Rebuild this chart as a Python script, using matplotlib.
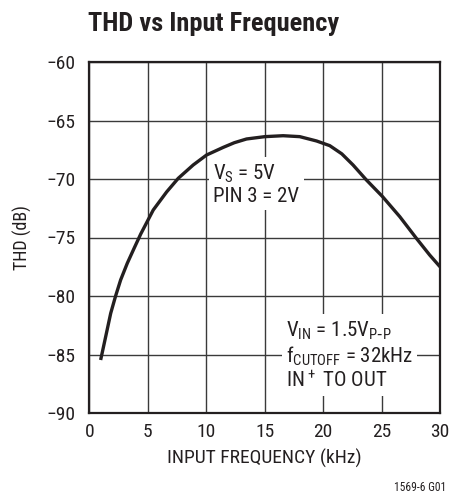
import matplotlib
matplotlib.use('Agg')
import matplotlib.pyplot as plt

# curve
freq_khz = [0.97, 1.40, 1.83, 2.25, 2.68, 3.25, 3.82, 4.4, 5.47, 6.62, 7.61, 8.89,
            10.03, 11.45, 12.4, 13.45, 15.02, 16.58, 18.0, 19.44, 20.57, 21.6,
            22.56, 23.71, 25.08, 26.56, 27.98, 29.12, 30.0]
thd_db = [-85.47, -83.48, -81.48, -80.0, -78.63, -77.2, -75.95, -74.7, -72.65, -71.1,
          -69.94, -68.8, -67.95, -67.3, -66.9, -66.58, -66.38, -66.3, -66.38, -66.75,
          -67.15, -67.85, -68.8, -70.09, -71.5, -73.22, -75.07, -76.5, -77.5]

x_ticks = [0, 5, 10, 15, 20, 25, 30]
y_ticks = [-90, -85, -80, -75, -70, -65, -60]

FONT = ['Liberation Sans Narrow', 'Roboto Condensed', 'Roboto', 'DejaVu Sans']
plt.rcParams['font.family'] = FONT
plt.rcParams['axes.unicode_minus'] = True
INK = '#231f20'

fig = plt.figure(figsize=(4.51, 5.0), dpi=100)
ax = fig.add_axes([0.198, 0.174, 0.7776, 0.702])

ax.plot(freq_khz, thd_db, color=INK, lw=2.4, zorder=4,
        solid_capstyle='butt', solid_joinstyle='round')

ax.set_xlim(0, 30)
ax.set_ylim(-90, -60)
ax.set_xticks(x_ticks)
ax.set_yticks(y_ticks)
ax.grid(True, color='#3a3a3a', lw=1.0, zorder=1)
ax.set_axisbelow(True)
ax.tick_params(length=0, labelsize=14, colors=INK)
ax.tick_params(axis='y', pad=10)
ax.tick_params(axis='x', pad=7)
for s in ax.spines.values():
    s.set_linewidth(1.6)
    s.set_color(INK)

ax.set_xlabel('INPUT FREQUENCY (kHz)', fontsize=14, color=INK, va='center')
ax.set_ylabel('THD (dB)', fontsize=13, color=INK, va='center')
ax.xaxis.set_label_coords(0.5, -0.128)
ax.yaxis.set_label_coords(-0.19, 0.5)

fig.text(0.196, 0.938, 'THD vs Input Frequency', fontsize=19, fontweight='bold',
         color=INK, ha='left', va='baseline')

ax.text(10.6, -70.45, '$\\mathregular{V_S}$ = 5V\nPIN 3 = 2V', fontsize=15,
        color=INK, ha='left', va='center', linespacing=1.1, zorder=3,
        bbox=dict(facecolor='white', edgecolor='none', pad=3))

ax.text(16.8, -85.1, '$\\mathregular{V_{IN}}$ = 1.5$\\mathregular{V_{P\\text{-}P}}$\n'
        '$\\mathregular{f_{CUTOFF}}$ = 32kHz\n$\\mathregular{IN^+}$ TO OUT',
        fontsize=15, color=INK, ha='left', va='center', linespacing=1.12,
        zorder=3, bbox=dict(facecolor='white', edgecolor='none', pad=3))

fig.text(0.99, 0.025, '1569-6 G01', fontsize=8.3, color=INK, ha='right', va='center')

fig.savefig('out.png', dpi=100)
